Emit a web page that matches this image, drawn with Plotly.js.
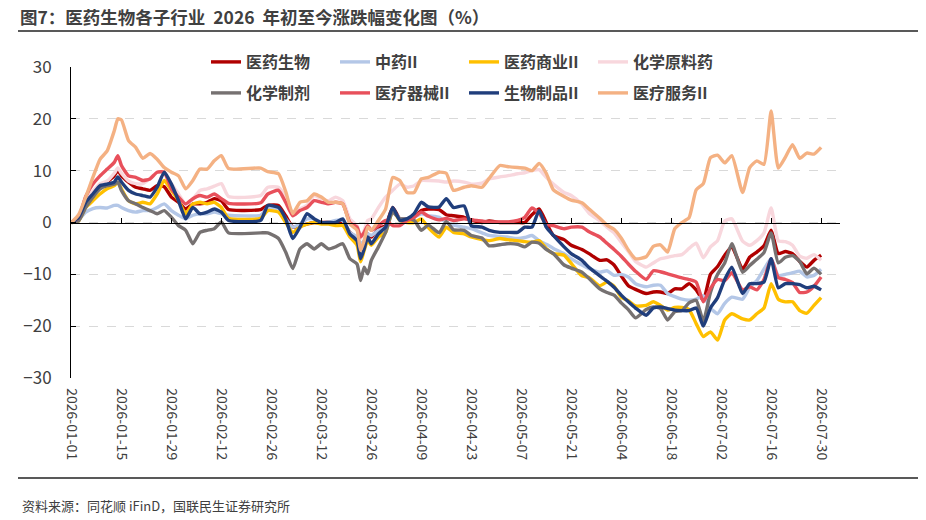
<!DOCTYPE html>
<html>
<head>
<meta charset="utf-8">
<script src="https://cdn.plot.ly/plotly-3.0.1.min.js"></script>
<style>
html, body { margin: 0; padding: 0; background: #fff; }
#chart { width: 926px; height: 520px; }
</style>
</head>
<body>
<div id="chart"></div>
<script>
// 交易日（节选）
var dates = ['2026-01-01','2026-01-03','2026-01-05','2026-01-07','2026-01-09','2026-01-11','2026-01-13','2026-01-14','2026-01-15','2026-01-17',
  '2026-01-19','2026-01-21','2026-01-23','2026-01-25','2026-01-27','2026-01-29','2026-01-31','2026-02-02','2026-02-04','2026-02-06',
  '2026-02-08','2026-02-10','2026-02-12','2026-02-14','2026-02-23','2026-02-25','2026-02-28','2026-03-02','2026-03-04','2026-03-06',
  '2026-03-08','2026-03-10','2026-03-12','2026-03-14','2026-03-16','2026-03-18','2026-03-20','2026-03-22','2026-03-23','2026-03-24',
  '2026-03-25','2026-03-26','2026-03-28','2026-03-30','2026-04-01','2026-04-03','2026-04-05','2026-04-07','2026-04-09','2026-04-11',
  '2026-04-14','2026-04-16','2026-04-18','2026-04-21','2026-04-23','2026-04-26','2026-04-28','2026-05-01','2026-05-03','2026-05-06',
  '2026-05-08','2026-05-10','2026-05-12','2026-05-14','2026-05-16','2026-05-19','2026-05-21','2026-05-24','2026-05-26','2026-05-29',
  '2026-05-31','2026-06-02','2026-06-04','2026-06-06','2026-06-08','2026-06-11','2026-06-13','2026-06-15','2026-06-17','2026-06-19',
  '2026-06-21','2026-06-23','2026-06-25','2026-06-27','2026-06-29','2026-07-01','2026-07-03','2026-07-05','2026-07-08','2026-07-10',
  '2026-07-12','2026-07-14','2026-07-16','2026-07-18','2026-07-20','2026-07-22','2026-07-24','2026-07-26','2026-07-28','2026-07-30'];

var yiyao = [0, 0.8, 4.2, 5.5, 6.8, 7.8, 9, 10, 9, 7.8, 6.8, 6.5, 6.2, 7.1, 6.9, 4.9, 3.9, 2.6, 3.6, 3.6, 3.9, 4.6, 4.2, 2.5,
  2.5, 3.3, 3.3, 1.3, -0.9, -0.6, -0.3, 0, 0, 0, 0, 0, -1.9, -3.1, -5.1, -3.8, -2.2, -2.8, -1.2, -0.6, 2.9, 0.7, 0.7, 1, 2.3,
  2.6, 2.5, 1.5, 1.3, 1, 0.5, 0, 0.3, 0, 0, 0, 0, 1.5, 2.6, 0, -2.5, -3.3, -4.4, -5.2, -6, -7.3, -7.2, -8.2, -10.3,
  -12.2, -12.9, -13.7, -13.4, -13.4, -13.7, -12.8, -12.8, -11.8, -13, -15, -10, -8.5, -6.3, -4.7, -9, -6.7, -5.7, -4.5, -1.5, -6, -5.6, -6, -7.5, -8.6, -7.3, -6.3];

var zhongyao = [0, 0.5, 2, 2.7, 2.9, 2.8, 3.3, 3.3, 2.9, 2.3, 2, 2.3, 2.3, 2.9, 3.6, 2.3, 1.4, 0.7, 1.4, 1.7, 1.7, 2, 1.7, 1.4,
  1.4, 2.9, 2.6, 0.7, -0.9, -0.3, 0.7, 0.7, 0, 0, 0.4, 0.4, -1.9, -2.8, -4.1, -3.5, -2.2, -2.5, -1.5, -0.9, 2.3, 0.7, 0.7, 1, 1.7,
  1.3, 1, 0, -0.5, -0.9, -1.2, -2, -2.5, -2.7, -2.8, -3.1, -2.9, -2.5, -3.5, -4.2, -5, -6, -7, -8.2, -8.9, -9.6, -9.3, -10.2, -10,
  -10.5, -11.8, -12.4, -12.1, -12.1, -13.7, -14.3, -14.8, -15, -14.8, -14.1, -16.5, -17.6, -15.6, -14.4, -14.8, -12.5, -11.2, -9, -7, -10.2, -10, -9.7, -9.4, -10.5, -10.2, -9];

var shangye = [0, 0.3, 2.9, 4.2, 5.5, 6.5, 7.1, 7.8, 6.5, 4.2, 3.6, 3.9, 3.6, 5.5, 8.1, 6.2, 4.2, 1.7, 3.6, 3.9, 3.6, 3.9, 2.9, 0.8,
  0.8, 2.3, 2, 0, -1.9, -0.9, -0.3, 0, -0.3, -0.3, -0.6, -0.6, -2.8, -4.4, -7.6, -5.4, -3.5, -4.4, -2.8, -1.9, 2.3, 0.4, 0, 0, 0.7,
  -1, -2.8, -0.9, -1.9, -2.2, -2.8, -3.3, -3.5, -3.1, -3.3, -3.5, -3.7, -3.8, -3.5, -5, -6, -6.3, -7.9, -10.3, -10.6, -12.2, -11.5, -12.3, -14.4,
  -15.1, -16.1, -16, -15.3, -16, -16.9, -16.4, -16.4, -16.8, -19.5, -22, -21.1, -22.7, -18.8, -17.6, -18.6, -18.8, -17.6, -16.5, -11.8, -14.8, -15.3, -15.3, -17, -17.5, -16, -14.5];

var yuanliao = [0, 0.5, 4.5, 6, 7.5, 8, 9.5, 10.5, 9.5, 8, 7.5, 7.5, 8.5, 9.7, 9.8, 7.5, 5.5, 3.5, 4.5, 6.2, 6.5, 7, 7.5, 5,
  5.2, 6.8, 6.8, 4.9, 1.7, 2.6, 3.3, 5.2, 4.6, 4.2, 4.9, 4.2, 0.7, -0.6, -3.1, -1.5, 0.4, 0.7, 2.9, 4.9, 6.2, 7.4, 6.8, 7.1, 8.1,
  8.1, 8, 7.8, 8, 7.8, 7.4, 7.6, 8.4, 8.8, 9, 9.4, 9.6, 10, 10.2, 8.7, 7.4, 5.8, 5.2, 3.5, 1.8, 0.3, -0.9, -2, -3.8,
  -5.6, -7.5, -8.6, -7.8, -7, -6.7, -6.4, -6.2, -5, -4, -6.8, -4.7, -3.5, 0.3, 0.7, -3.6, -4.4, -3.5, -2, 2.8, -3.5, -3.7, -4.4, -6.5, -6.9, -6.2, -7.3];

var zhiji = [0, 0.3, 2.9, 4.9, 6.5, 7.1, 7.4, 7.8, 6.2, 4.2, 3.6, 2.9, 2.3, 1.7, 2.3, 1, -0.6, -1.5, -4.1, -1.9, -1.5, -1.2, 0.1, -2,
  -2, -2, -3.1, -5.7, -8.9, -5.1, -4.1, -5.1, -4.1, -5.1, -4.7, -4.1, -7, -8, -11.2, -8.6, -9.9, -7.3, -4.7, -1.9, 2, 0.7, 0.7, 0.4, -1.5,
  -0.5, -2, 0.2, -1.4, -1.5, -2.5, -3, -4.5, -4.3, -4.1, -4.2, -4.7, -3.8, -4, -5.2, -6, -8.2, -8.8, -9.6, -10.8, -12.8, -13.5, -14, -15.5,
  -16.8, -18.4, -16.8, -16.3, -16.6, -18.8, -17.2, -17, -15.5, -15, -19, -13.5, -10, -7.8, -4.1, -9.6, -8.3, -7.1, -5.8, -2, -7.8, -6.7, -6.4, -7.5, -9.9, -8.8, -10];

var qixie = [0, 1, 5, 7.4, 9, 10.3, 11.6, 12.9, 11, 9, 8.7, 8.1, 8.4, 9.7, 9.7, 6.5, 4.9, 3.6, 4.6, 5.2, 4.9, 5.5, 4.6, 3.7,
  3.8, 5.5, 6.2, 3.9, 1.3, 2.3, 2.9, 4.2, 3.9, 3.6, 3.9, 3.6, 0, -0.9, -2.8, -1.9, -0.6, -1.5, -0.6, 0.4, -0.6, -0.6, 0.4, 1, 2,
  1.2, 0.5, 0.8, 0.4, 0.7, 0.5, 0.3, 0.1, 0.1, 0.1, 0.4, 1, 2.8, 1.8, -0.3, -0.6, -1.2, -0.9, -0.9, -1.8, -2.8, -4, -5.2, -6.5,
  -8, -9.4, -11, -9.3, -9.5, -9.9, -10.3, -10.7, -11, -11.5, -15.3, -12.7, -11, -11.2, -9.7, -13, -12.4, -13, -11, -7, -10.6, -11, -11.6, -13.5, -13.4, -12.3, -10.5];

var shengwu = [0, 1, 3.9, 5.5, 7.1, 7.4, 7.8, 8.8, 7.8, 6.2, 5.5, 5.2, 4.9, 6.8, 9.7, 7.4, 4.2, 0.7, 2.9, 1.7, 2, 2.6, 2, 0.4,
  0.4, 3.3, 2.9, 0.7, -3.1, -0.9, 1.7, 0.7, 0, 0, 0, 0.7, -2.2, -3.5, -7, -5.1, -2.8, -4.1, -2.2, -0.9, 2.9, 0.4, 0.7, 1.7, 3.9,
  3, 3, 4.6, 2.9, 3.2, -0.6, -0.9, -1.5, -1.9, -1.9, -1.9, -0.9, -0.9, 2.3, -0.9, -2.5, -4.7, -6, -7.3, -8.7, -10.3, -11.3, -12.5, -14,
  -15.3, -16.5, -17.9, -16.5, -16.3, -16.6, -16.9, -17, -17, -16.5, -20, -16.5, -14.5, -11, -8.6, -13.7, -11.8, -11.8, -11.5, -7, -12.6, -11.8, -11.8, -12, -12.6, -12.3, -13];

var fuwu = [0, 1.5, 4.9, 8.7, 12.2, 13.8, 17.7, 20, 19.8, 15.8, 14.5, 12.4, 13.3, 12.2, 10.6, 9.7, 9, 6.5, 8.1, 10.3, 10.3, 11.9, 12.9, 10.4,
  10.5, 9.8, 9.4, 6, 1.7, 3.9, 4.2, 5.5, 4.9, 3.9, 3.9, 3.6, -0.3, -1.5, -5.4, -3.5, -0.9, -1.5, 0.4, 2.6, 8.7, 8.1, 5.8, 5.8, 8.4,
  8.7, 9.7, 9.5, 6.2, 6.8, 7.1, 6.8, 8.5, 11, 10.8, 10.6, 10.5, 10, 11.4, 9.5, 6.3, 5, 4.3, 3.8, 2.6, 0.8, -0.5, -1.3, -3,
  -5.3, -7, -6.6, -4.6, -4.3, -5.7, -1.2, 0, 0.9, 6.3, 7.5, 12.5, 13, 11.5, 12.9, 5.8, 10.6, 11.9, 11.2, 21.5, 10.5, 12.6, 15, 12.4, 13.4, 13.2, 14.5];

var names = ['医药生物', '中药II', '医药商业II', '化学原料药', '化学制剂', '医疗器械II', '生物制品II', '医疗服务II'];
var colors = ['#B00000', '#B4C7E7', '#FFC000', '#F8D7DD', '#767171', '#E8505B', '#203E7C', '#F4B183'];
var series = [yiyao, zhongyao, shangye, yuanliao, zhiji, qixie, shengwu, fuwu];

var W = 926, H = 520, ml = 71, mr = 86, mt = 67, mb = 142;
var pw = W - ml - mr, ph = H - mt - mb;
function px(x) { return (x - ml) / pw; }
function py(y) { return (H - mb - y) / ph; }

var font = '"Noto Sans CJK SC", "Noto Sans", sans-serif';
var day = 86400000;

var data = [];
for (var i = 0; i < series.length; i++) {
  data.push({
    x: dates, y: series[i], name: names[i],
    type: 'scatter', mode: 'lines',
    line: {color: colors[i], width: 3.4, shape: 'spline', smoothing: 0.5},
    legend: i < 4 ? 'legend' : 'legend2',
    hoverinfo: 'skip'
  });
}

var legendBase = {
  orientation: 'h', xanchor: 'left', yanchor: 'middle',
  entrywidth: 84, entrywidthmode: 'pixels',
  font: {family: font, size: 16, color: '#404040', weight: 'bold'},
  bgcolor: 'rgba(0,0,0,0)', traceorder: 'normal', itemwidth: 30
};

var layout = {
  width: W, height: H,
  margin: {l: ml, r: mr, t: mt, b: mb},
  paper_bgcolor: '#fff', plot_bgcolor: '#fff',
  font: {family: font, color: '#404040'},
  title: {
    text: '<b>图7：医药生物各子行业  2026  年初至今涨跌幅变化图（%）</b>',
    xref: 'container', yref: 'container', x: 20 / W, y: 1 - 18 / H,
    xanchor: 'left', yanchor: 'middle',
    font: {family: font, size: 17.5, color: '#404040'}
  },
  // 横轴画在 0 处，刻度标签推到图底
  xaxis: {
    type: 'date', range: ['2025-12-31 21:00', '2026-08-04 07:00'],
    anchor: 'free', position: 0.5,
    showline: true, linecolor: '#000', linewidth: 1,
    ticks: 'inside', ticklen: 5, tickcolor: '#000',
    tick0: '2026-01-01', dtick: 14 * day,
    tickformat: '%Y-%m-%d', tickangle: 90, ticklabelstandoff: 162,
    tickfont: {family: font, size: 14, color: '#404040'},
    showgrid: false, zeroline: false
  },
  yaxis: {
    range: [-30, 30], dtick: 10,
    showline: true, linecolor: '#000', linewidth: 1,
    ticks: 'inside', ticklen: 5, tickcolor: '#000', ticklabelstandoff: 15,
    showgrid: true, gridcolor: '#D9D9D9', griddash: 'dash', zeroline: false,
    tickfont: {family: font, size: 17, color: '#404040'}
  },
  legend: Object.assign({}, legendBase, {x: px(206), y: py(62)}),
  legend2: Object.assign({}, legendBase, {x: px(206), y: py(93)}),
  shapes: [
    {type: 'line', xref: 'paper', yref: 'paper', x0: px(18), x1: px(918), y0: py(31), y1: py(31),
      line: {color: '#595959', width: 2}},
    {type: 'line', xref: 'paper', yref: 'paper', x0: px(18), x1: px(918), y0: py(478), y1: py(478),
      line: {color: '#595959', width: 2}}
  ],
  annotations: [
    {text: '资料来源：同花顺 iFinD，国联民生证券研究所', xref: 'paper', yref: 'paper',
      x: px(20), y: py(505), xanchor: 'left', yanchor: 'middle', showarrow: false,
      font: {family: font, size: 13, color: '#404040'}}
  ],
  showlegend: true
};

Plotly.newPlot('chart', data, layout, {displayModeBar: false, staticPlot: true});
</script>
</body>
</html>
